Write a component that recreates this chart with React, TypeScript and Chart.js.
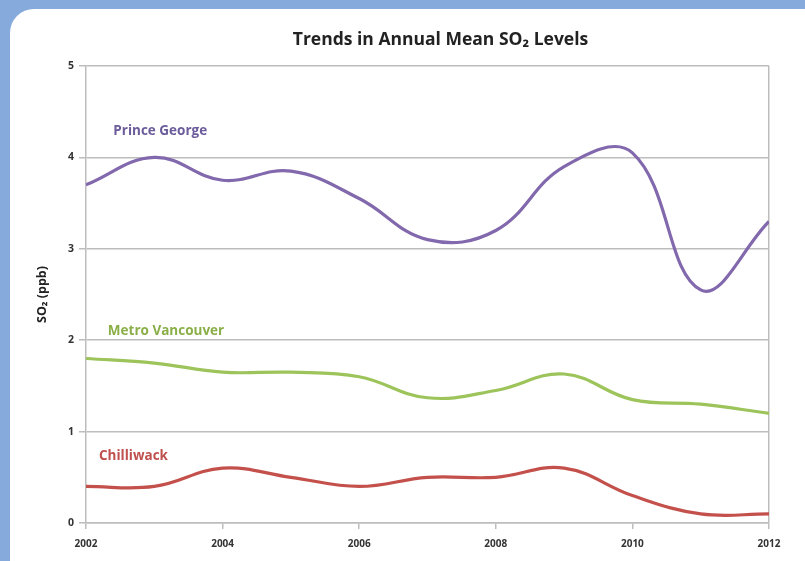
import { useEffect, useRef } from "react";
import { Chart, registerables } from "chart.js";

Chart.register(...registerables);

// Annual mean SO2 (ppb) by region
const years = [2002, 2003, 2004, 2005, 2006, 2007, 2008, 2009, 2010, 2011, 2012];
const princeGeorge = [3.7, 4.0, 3.75, 3.85, 3.55, 3.1, 3.2, 3.9, 4.05, 2.55, 3.3];
const metroVancouver = [1.8, 1.75, 1.65, 1.65, 1.6, 1.37, 1.45, 1.63, 1.35, 1.3, 1.2];
const chilliwack = [0.4, 0.4, 0.6, 0.5, 0.4, 0.5, 0.5, 0.6, 0.3, 0.1, 0.1];

const yTickValues = [0, 1, 2, 3, 4, 5];
const xTickValues = [2002, 2004, 2006, 2008, 2010, 2012];

const titleText = "Trends in Annual Mean SO\u2082 Levels";
const yAxisTitle = "SO\u2082 (ppb)";

// In-chart series labels: [text, colour, x (year), y (ppb)]
const seriesLabels: [string, string, number, number][] = [
  ["Prince George", "#6B5B9B", 2002.4, 4.29],
  ["Metro Vancouver", "#8BAF48", 2002.32, 2.1],
  ["Chilliwack", "#C0504D", 2002.19, 0.73],
];

const FONT = "'Open Sans', Lato, sans-serif";
const GRID = "#BDBDBD";

const toPoints = (vals: number[]) => years.map((x, i) => ({ x, y: vals[i] }));

const annotations = {
  id: "annotations",
  afterDatasetsDraw(chart: any) {
    const { ctx, scales, chartArea } = chart;
    ctx.save();
    ctx.font = `bold 13.5px ${FONT}`;
    ctx.textBaseline = "middle";
    ctx.textAlign = "left";
    for (const [text, color, xv, yv] of seriesLabels) {
      ctx.fillStyle = color;
      ctx.fillText(text, scales.x.getPixelForValue(xv), scales.y.getPixelForValue(yv));
    }
    ctx.font = `bold 17.5px ${FONT}`;
    ctx.fillStyle = "#222222";
    ctx.textAlign = "center";
    ctx.fillText(titleText, (chartArea.left + chartArea.right) / 2 + 13, chartArea.top - 26);
    ctx.restore();
  },
};

export default function App() {
  const canvasRef = useRef<HTMLCanvasElement | null>(null);

  useEffect(() => {
    const canvas = canvasRef.current;
    if (!canvas) return;
    const line = (label: string, data: number[], color: string) => ({
      label,
      data: toPoints(data),
      borderColor: color,
      backgroundColor: color,
      borderWidth: 3.2,
      pointRadius: 0,
      tension: 0.4,
      fill: false,
    });
    const chart = new Chart(canvas, {
      type: "line",
      data: {
        datasets: [
          line("Prince George", princeGeorge, "#8268AC"),
          line("Metro Vancouver", metroVancouver, "#9CC45A"),
          line("Chilliwack", chilliwack, "#C4504C"),
        ],
      },
      options: {
        animation: false,
        responsive: false,
        maintainAspectRatio: false,
        layout: { padding: { left: 0, top: 66, right: 36, bottom: 0 } },
        plugins: {
          legend: { display: false },
          tooltip: { enabled: false },
          title: { display: false },
        },
        scales: {
          x: {
            type: "linear",
            min: 2002,
            max: 2012,
            afterBuildTicks: (scale: any) => {
              scale.ticks = xTickValues.map((value) => ({ value }));
            },
            afterFit: (scale: any) => {
              scale.height = 38;
            },
            ticks: {
              padding: 9,
              color: "#333333",
              font: { family: FONT, size: 10, weight: "bold" },
              callback: (v: any) => String(v),
            },
            grid: {
              color: (c: any) => (c.tick && c.tick.value === 2012 ? GRID : "rgba(0,0,0,0)"),
              tickColor: GRID,
              tickLength: 6,
              lineWidth: 1.5,
            },
            border: { color: GRID, width: 1.5 },
          },
          y: {
            min: 0,
            max: 5,
            afterBuildTicks: (scale: any) => {
              scale.ticks = yTickValues.map((value) => ({ value }));
            },
            afterFit: (scale: any) => {
              scale.width = 86;
            },
            ticks: {
              padding: 5,
              color: "#333333",
              font: { family: FONT, size: 10.5, weight: "bold" },
            },
            grid: { color: GRID, tickColor: GRID, tickLength: 7, lineWidth: 1.5 },
            border: { color: GRID, width: 1.5 },
            title: {
              display: true,
              text: yAxisTitle,
              color: "#222222",
              font: { family: FONT, size: 12.5, weight: "bold" },
              padding: { top: 35, bottom: 0 },
            },
          },
        },
      },
      plugins: [annotations],
    } as any);
    return () => chart.destroy();
  }, []);

  return (
    <div style={{ position: "fixed", inset: 0, background: "#86AADB", overflow: "hidden" }}>
      <div
        style={{
          position: "absolute",
          left: 10,
          top: 9,
          width: 830,
          height: 590,
          borderRadius: 24,
          background: "#FFFFFF",
        }}
      />
      <canvas
        ref={canvasRef}
        width={805}
        height={561}
        style={{ position: "absolute", left: 0, top: 0, width: 805, height: 561 }}
      />
    </div>
  );
}
